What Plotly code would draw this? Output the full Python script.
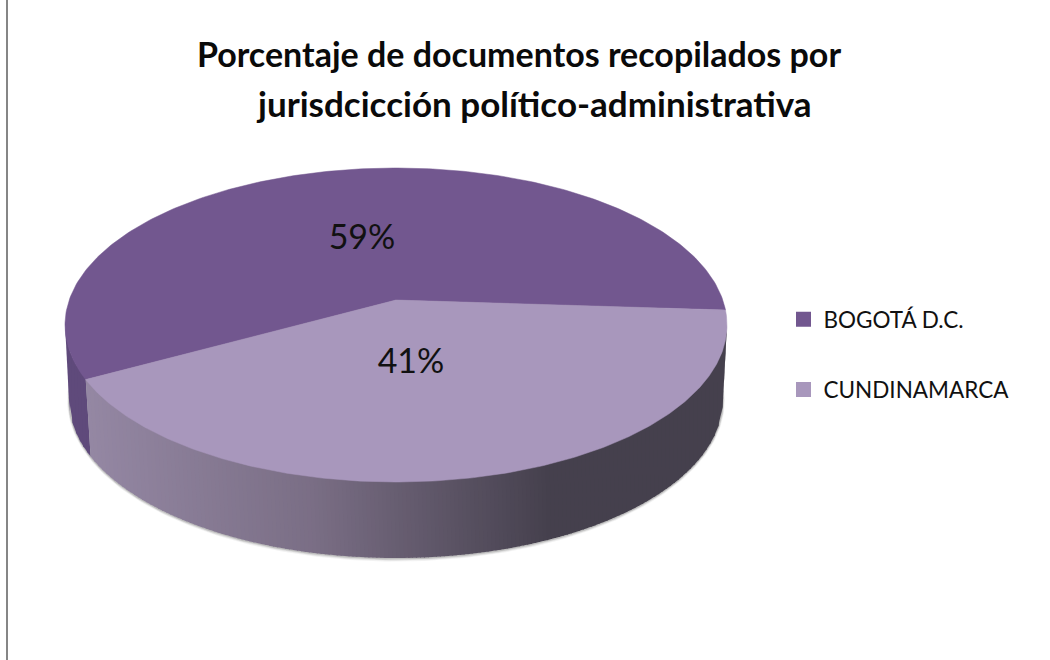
import numpy as np
import plotly.graph_objects as go

# ---- data ----
categories = ["BOGOTÁ D.C.", "CUNDINAMARCA"]
shares = [59, 41]
share_labels = ["59%", "41%"]
title_lines = ["Porcentaje de documentos recopilados por", "jurisdcicción político-administrativa"]

# ---- style / geometry ----
top_colors = ["#72578f", "#a897bc"]
dark_wall = "#5f4a7b"
wall_stops = [(0.0, (148, 135, 163)), (0.35, (122, 110, 133)), (0.72, (69, 64, 77)), (1.0, (69, 64, 77))]
CX, CY = 396.0, 325.0          # image centre of the top ellipse
RX, RY = 331.0, 157.0          # semi-axes of the top ellipse
DEPTH = 75.0
K = 25.0 / RY                  # perspective strength
START_DEG = -3.7               # where the first slice starts (true angle)
label_pos = [(362, 240), (411, 364)]


def project(angle_deg, r=1.0):
    """True pie angle on the disc -> picture position, with perspective."""
    a = np.radians(angle_deg)
    u, v = r * np.cos(a), r * np.sin(a)
    w = 1 + K * v
    x = CX + RX * np.sqrt(1 - K ** 2) * u / w
    y = CY - (RY * v + K * RY) / w
    return x, y


def lower_y(x, cy, rx, ry):
    t = np.clip((x - CX) / rx, -1, 1)
    return cy + ry * np.sqrt(1 - t ** 2)


def wall_color(f):
    xs = [s[0] for s in wall_stops]
    ch = [np.interp(f, xs, [s[1][i] for s in wall_stops]) for i in range(3)]
    return "rgb(%d,%d,%d)" % tuple(int(round(c)) for c in ch)


fig = go.Figure()

# soft edge below the rim
BOT_RX, BOT_RY = 327.0, 158.0
BOT_CY = CY + DEPTH
th = np.linspace(0, 2 * np.pi, 361)
for grow, alpha in [(3.0, 0.07), (2.0, 0.12), (1.0, 0.2)]:
    fig.add_trace(go.Scatter(
        x=CX + (BOT_RX + grow * 0.6) * np.cos(th), y=BOT_CY + 0.5 + (BOT_RY + grow) * np.sin(th),
        mode="lines", fill="toself", line_width=0, fillcolor=f"rgba(70,70,70,{alpha})",
        hoverinfo="skip", showlegend=False))

# the wall, as narrow strips from the top rim to the bottom rim
ends = np.cumsum(shares) / np.sum(shares) * 360
first_end = START_DEG + ends[0]
bx, by = project(first_end)
xl, xr = CX - RX, CX + RX


def shift(x):
    return x + 5.0 * (1 - (x - bx) / (xr - bx)) if x > bx else x + 5.0 * (x - xl) / (bx - xl)


edges = np.concatenate([np.linspace(xl, bx, 8), np.arange(bx + 4, xr, 4), [xr]])
for x0, x1 in zip(edges[:-1], edges[1:]):
    x1o = min(x1 + 1, xr) if x0 >= bx else min(x1 + 1, bx)
    bxs = [np.clip(shift(x1o), CX - BOT_RX, CX + BOT_RX), np.clip(shift(x0), CX - BOT_RX, CX + BOT_RX)]
    px = [x0, x1o, bxs[0], bxs[1]]
    py = [lower_y(x0, CY, RX, RY) - 1, lower_y(x1o, CY, RX, RY) - 1,
          lower_y(bxs[0], BOT_CY, BOT_RX, BOT_RY), lower_y(bxs[1], BOT_CY, BOT_RX, BOT_RY)]
    col = dark_wall if x0 < bx else wall_color((x0 - bx) / (xr - bx))
    fig.add_trace(go.Scatter(x=px, y=py, mode="lines", fill="toself", line_width=0,
                             fillcolor=col, hoverinfo="skip", showlegend=False))

# the top face: one sector per value
a0 = START_DEG
for share, color in zip(shares, top_colors):
    sweep = share / sum(shares) * 360
    ang = np.linspace(a0, a0 + sweep, 240)
    xs, ys = project(ang)
    cx0, cy0 = project(0.0, 0.0)
    fig.add_trace(go.Scatter(x=np.r_[cx0, xs, cx0], y=np.r_[cy0, ys, cy0], mode="lines",
                             fill="toself", line=dict(width=0.5, color=color), fillcolor=color,
                             hoverinfo="skip", showlegend=False))
    a0 += sweep

# percent labels
for txt, (lx, ly) in zip(share_labels, label_pos):
    fig.add_trace(go.Scatter(x=[lx], y=[ly], mode="text", text=[txt], textposition="middle center",
                             textfont=dict(family="Lato", size=34, color="#111111"),
                             hoverinfo="skip", showlegend=False))

# legend entries
for i, (name, color) in enumerate(zip(categories, top_colors)):
    fig.add_trace(go.Scatter(x=[None], y=[None], mode="markers", name=name, legendgroup=name,
                             marker=dict(symbol="square", size=15, color=color)))

fig.update_layout(
    width=1050, height=660, margin=dict(l=0, r=0, t=0, b=0),
    paper_bgcolor="white", plot_bgcolor="white",
    xaxis=dict(range=[0, 1050], visible=False, domain=[0, 1]),
    yaxis=dict(range=[660, 0], visible=False, domain=[0, 1]),
    title=dict(text=title_lines[0], x=519 / 1050, xanchor="center", y=1 - 55 / 660, yanchor="middle",
               font=dict(family="Lato", size=34, color="#0a0a0a", weight="bold")),
    annotations=[dict(text=title_lines[1], x=534, y=103, xref="x", yref="y", showarrow=False,
                      xanchor="center", yanchor="middle",
                      font=dict(family="Lato", size=35, color="#0a0a0a", weight="bold"))],
    legend=dict(x=783.5 / 1050, y=1 - 298 / 660, xanchor="left", yanchor="top", tracegroupgap=38,
                font=dict(family="Lato", size=22.5, color="#111111"), bgcolor="rgba(0,0,0,0)"),
    shapes=[dict(type="line", xref="paper", yref="paper", x0=7 / 1050, x1=7 / 1050, y0=0, y1=1,
                 line=dict(color="#868686", width=2))],
)

fig.write_html("out.html", post_script="document.body.style.margin='0';",
               config={"displayModeBar": False})
